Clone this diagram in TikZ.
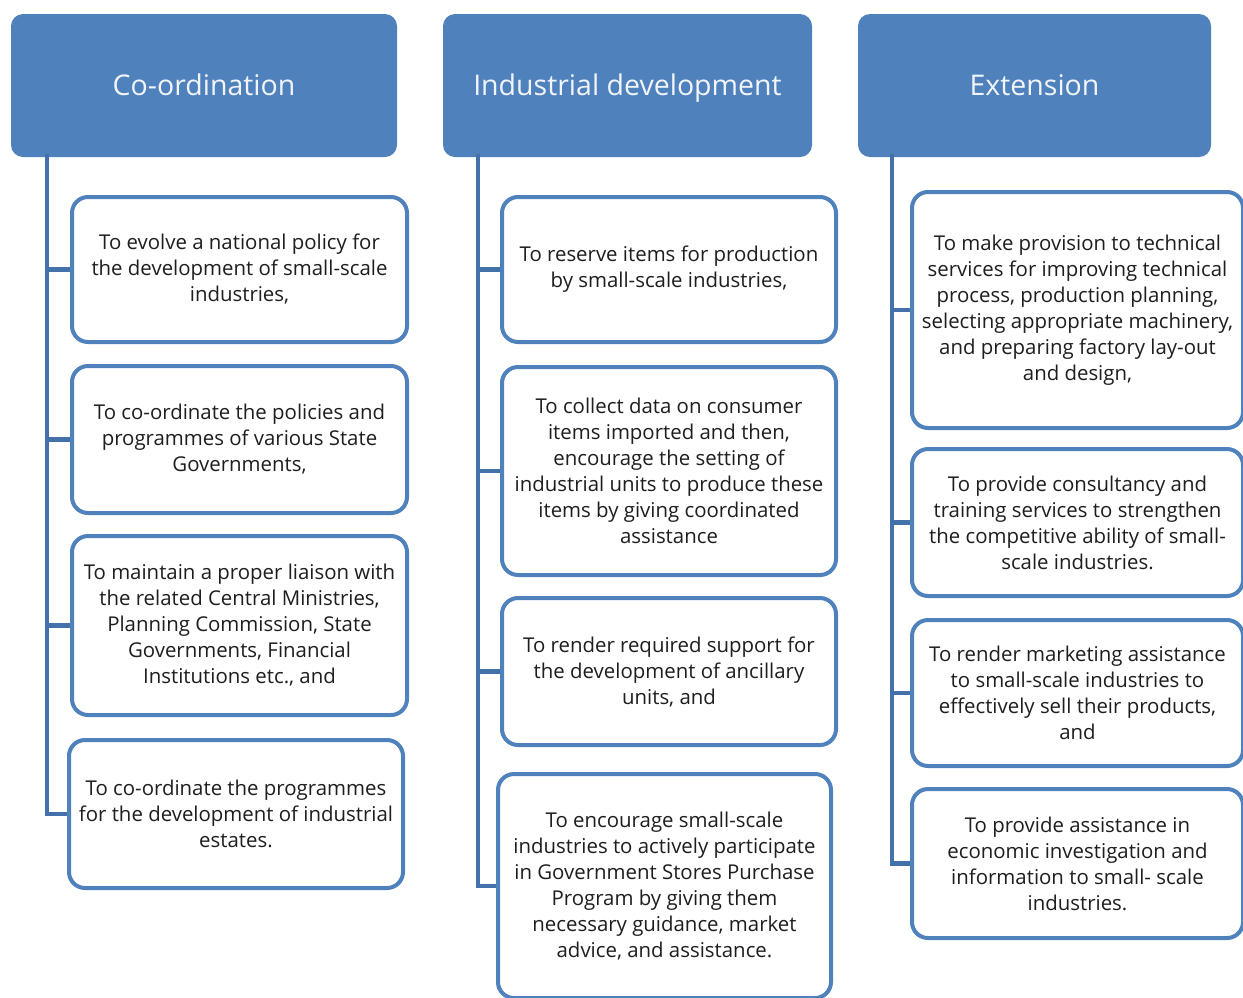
\documentclass[tikz,border=0pt]{standalone}
\usepackage{fontspec}
\setmainfont{Open Sans}
\usetikzlibrary{calc}
\definecolor{hdr}{HTML}{4F81BD}
\definecolor{conn}{HTML}{4372AA}
\definecolor{txt}{HTML}{1E1E1E}
\tikzset{
  hdrbox/.style={rectangle, rounded corners=12pt, fill=hdr, draw=none, text=white!92!hdr,
    font=\fontsize{28.5}{34}\selectfont, inner sep=0pt, text height=21pt, text depth=2pt},
  itembox/.style={rectangle, rounded corners=16pt, draw=hdr, line width=4pt, fill=white,
    text=txt, font=\fontsize{20.4}{26}\selectfont, align=center, inner sep=0pt},
  conline/.style={draw=conn, line width=4.5pt},
}
\begin{document}
\begin{tikzpicture}[x=1pt,y=-1pt]
\useasboundingbox (0,0) rectangle (1243,997);
% headers
\node[hdrbox, minimum width=386pt, minimum height=143pt] (h1) at (204,85.5) {Co-ordination};
\node[hdrbox, minimum width=369pt, minimum height=143pt] (h2) at (627.5,85.5) {Industrial development};
\node[hdrbox, minimum width=353pt, minimum height=143pt] (h3) at (1034.5,85.5) {Extension};
% trunk anchor coordinates
\coordinate (t1) at ($(h1.south west)+(36,-3)$);
\coordinate (t2) at ($(h2.south west)+(35,-3)$);
\coordinate (t3) at ($(h3.south west)+(34,-3)$);
% column 1
\node[itembox, minimum width=335pt, minimum height=145pt] (b1) at (239.5,269.5)
  {To evolve a national policy for\\the development of small-scale\\industries,};
\node[itembox, minimum width=335pt, minimum height=147pt] (b2) at (239.5,439.5)
  {To co-ordinate the policies and\\programmes of various State\\Governments,};
\node[itembox, minimum width=335pt, minimum height=179pt] (b3) at (239.5,625.5)
  {To maintain a proper liaison with\\the related Central Ministries,\\Planning Commission, State\\Governments, Financial\\Institutions etc., and};
\node[itembox, minimum width=334pt, minimum height=148pt] (b4) at (236,814)
  {To co-ordinate the programmes\\for the development of industrial\\estates.};
% column 2
\node[itembox, minimum width=334pt, minimum height=145pt] (c1) at (669,269.5)
  {To reserve items for production\\by small-scale industries,};
\node[itembox, minimum width=334pt, minimum height=208pt] (c2) at (669,471)
  {To collect data on consumer\\items imported and then,\\encourage the setting of\\industrial units to produce these\\items by giving coordinated\\assistance};
\node[itembox, minimum width=334pt, minimum height=147pt] (c3) at (669,671.5)
  {To render required support for\\the development of ancillary\\units, and};
\node[itembox, minimum width=333pt, minimum height=224pt] (c4) at (664.5,886)
  {To encourage small-scale\\industries to actively participate\\in Government Stores Purchase\\Program by giving them\\necessary guidance, market\\advice, and assistance.};
% column 3
\node[itembox, minimum width=331pt, minimum height=236pt] (d1) at (1077.5,310)
  {To make provision to technical\\services for improving technical\\process, production planning,\\selecting appropriate machinery,\\and preparing factory lay-out\\and design,};
\node[itembox, minimum width=331pt, minimum height=147pt] (d2) at (1077.5,522.5)
  {To provide consultancy and\\training services to strengthen\\the competitive ability of small-\\scale industries.};
\node[itembox, minimum width=331pt, minimum height=146pt] (d3) at (1077.5,693)
  {To render marketing assistance\\to small-scale industries to\\effectively sell their products,\\and};
\node[itembox, minimum width=331pt, minimum height=149pt] (d4) at (1077.5,863.5)
  {To provide assistance in\\economic investigation and\\information to small- scale\\industries.};
% connectors
\draw[conline] (t1) |- (b4.west);
\draw[conline] (b1.west -| t1) -- (b1.west);
\draw[conline] (b2.west -| t1) -- (b2.west);
\draw[conline] (b3.west -| t1) -- (b3.west);
\draw[conline] (t2) |- (c4.west);
\draw[conline] (c1.west -| t2) -- (c1.west);
\draw[conline] (c2.west -| t2) -- (c2.west);
\draw[conline] (c3.west -| t2) -- (c3.west);
\draw[conline] (t3) |- (d4.west);
\draw[conline] (d1.west -| t3) -- (d1.west);
\draw[conline] (d2.west -| t3) -- (d2.west);
\draw[conline] (d3.west -| t3) -- (d3.west);
\end{tikzpicture}
\end{document}
